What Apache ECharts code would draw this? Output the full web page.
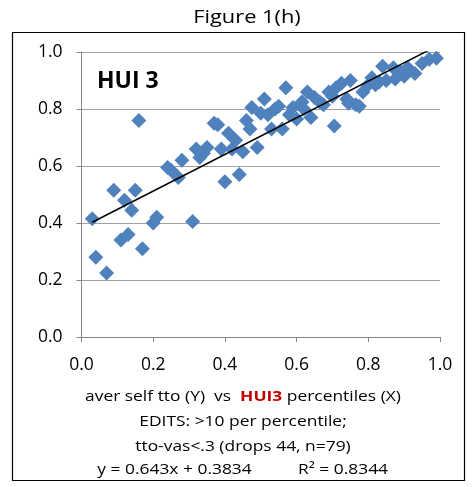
<!DOCTYPE html>
<html>
<head>
<meta charset="utf-8">
<script src="https://cdn.jsdelivr.net/npm/echarts@6/dist/echarts.min.js"></script>
<style>
  html, body { margin: 0; padding: 0; background: #fff; }
  #chart { width: 473px; height: 487px; }
</style>
</head>
<body>
<div id="chart"></div>
<script>
// HUI3 percentile (x) against average self-rated TTO (y)
const hui3Pct = [
  0.03, 0.04, 0.07, 0.09, 0.11, 0.12, 0.13, 0.14, 0.15, 0.16,
  0.17, 0.20, 0.21, 0.24, 0.25, 0.27, 0.28, 0.31, 0.32, 0.33,
  0.34, 0.35, 0.37, 0.38, 0.39, 0.40, 0.41, 0.42, 0.43, 0.44,
  0.45, 0.46, 0.47, 0.475, 0.49, 0.50, 0.51, 0.52, 0.53, 0.54,
  0.55, 0.56, 0.57, 0.58, 0.59, 0.60, 0.615, 0.62, 0.63, 0.64,
  0.65, 0.665, 0.675, 0.69, 0.70, 0.705, 0.71, 0.725, 0.74, 0.745,
  0.75, 0.765, 0.775, 0.785, 0.80, 0.81, 0.82, 0.83, 0.84, 0.85,
  0.87, 0.875, 0.89, 0.90, 0.91, 0.93, 0.95, 0.97, 0.99
];
const averSelfTto = [
  0.415, 0.28, 0.225, 0.515, 0.34, 0.48, 0.36, 0.445, 0.515, 0.76,
  0.31, 0.40, 0.42, 0.595, 0.585, 0.56, 0.62, 0.405, 0.66, 0.63,
  0.645, 0.665, 0.75, 0.745, 0.66, 0.545, 0.715, 0.66, 0.69, 0.57,
  0.65, 0.76, 0.73, 0.805, 0.665, 0.785, 0.835, 0.78, 0.73, 0.80,
  0.81, 0.73, 0.875, 0.78, 0.805, 0.765, 0.825, 0.80, 0.86, 0.77,
  0.84, 0.825, 0.815, 0.86, 0.845, 0.74, 0.875, 0.89, 0.835, 0.82,
  0.90, 0.815, 0.81, 0.86, 0.885, 0.91, 0.885, 0.895, 0.95, 0.90,
  0.945, 0.905, 0.93, 0.915, 0.945, 0.925, 0.96, 0.975, 0.978
];
const axisTicks = [0, 0.2, 0.4, 0.6, 0.8, 1.0];

// Least-squares fit reported under the chart
const slope = 0.643;
const intercept = 0.3834;
const rSquared = '0.8344';

const points = hui3Pct.map((x, i) => [x, averSelfTto[i]]);
const xMin = Math.min(...hui3Pct);
const xMax = Math.max(...hui3Pct);
const fitLine = [[xMin, slope * xMin + intercept], [xMax, slope * xMax + intercept]];

const FONT = '"Open Sans", Lato, sans-serif';
const WIDE = 1.16; // horizontal stretch for the caption text

function caption(text, x, y, extra) {
  return Object.assign({
    type: 'text', x: x, y: y, scaleX: WIDE,
    style: { text: text, align: 'center', verticalAlign: 'middle', font: '15px ' + FONT, fill: '#000' }
  }, extra || {});
}

const chart = echarts.init(document.getElementById('chart'), null, { renderer: 'canvas' });

chart.setOption({
  animation: false,
  backgroundColor: '#ffffff',
  grid: { left: 81.5, right: 33, top: 52, bottom: 150 },
  xAxis: {
    type: 'value',
    min: axisTicks[0],
    max: axisTicks[axisTicks.length - 1],
    interval: 0.2,
    axisLine: { show: true, lineStyle: { color: '#868686', width: 1 } },
    axisTick: { show: true, inside: false, length: 5, lineStyle: { color: '#868686' } },
    axisLabel: {
      margin: 19,
      fontFamily: FONT, fontSize: 17.5, color: '#000',
      formatter: v => v.toFixed(1)
    },
    splitLine: { show: false }
  },
  yAxis: {
    type: 'value',
    min: axisTicks[0],
    max: axisTicks[axisTicks.length - 1],
    interval: 0.2,
    axisLine: { show: true, lineStyle: { color: '#868686', width: 1 } },
    axisTick: { show: true, inside: false, length: 5, lineStyle: { color: '#868686' } },
    axisLabel: {
      margin: 19,
      fontFamily: FONT, fontSize: 17.5, color: '#000',
      formatter: v => v.toFixed(1)
    },
    splitLine: { show: true, lineStyle: { color: '#a0a0a0', width: 1 } }
  },
  series: [
    {
      type: 'scatter',
      data: points,
      symbol: 'diamond',
      symbolSize: 15,
      itemStyle: { color: '#4f81bd', opacity: 1 },
      z: 2
    },
    {
      type: 'line',
      data: fitLine,
      symbol: 'none',
      clip: true,
      lineStyle: { color: '#000', width: 1.5 },
      z: 3
    }
  ],
  graphic: [
    {
      type: 'rect',
      shape: { x: 12.5, y: 32.5, width: 452, height: 448 },
      style: { fill: 'none', stroke: '#000', lineWidth: 1.2 },
      silent: true
    },
    {
      type: 'text', x: 247, y: 18, scaleX: 1.18,
      style: { text: 'Figure 1(h)', align: 'center', verticalAlign: 'middle', font: '18.5px ' + FONT, fill: '#000' }
    },
    {
      type: 'text', x: 97, y: 81,
      style: { text: 'HUI 3', verticalAlign: 'middle', font: 'bold 23px ' + FONT, fill: '#000' }
    },
    {
      type: 'text',
      x: 243, y: 397, scaleX: WIDE,
      style: {
        text: '{n|aver self tto (Y)  vs  }{r|HUI3}{n| percentiles (X)}',
        align: 'center', verticalAlign: 'middle',
        rich: {
          n: { font: '15px ' + FONT, fill: '#000' },
          r: { font: 'bold 15px ' + FONT, fill: '#c00000' }
        }
      }
    },
    caption('EDITS: >10 per percentile;', 243, 422),
    caption('tto-vas<.3 (drops 44, n=79)', 243, 447),
    caption('y = ' + slope + 'x + ' + intercept, 174.5, 470),
    caption('R² = ' + rSquared, 343, 470)
  ]
});
</script>
</body>
</html>
